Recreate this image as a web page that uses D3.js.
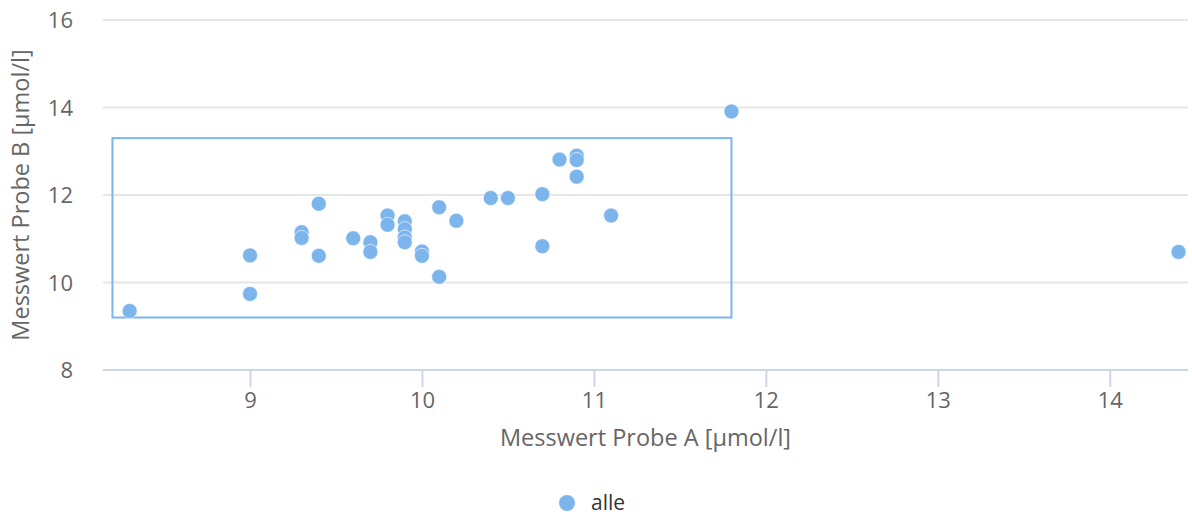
<!DOCTYPE html>
<html>
<head>
<meta charset="utf-8">
<script src="https://cdn.jsdelivr.net/npm/d3@7"></script>
<style>
  html, body { margin: 0; padding: 0; background: #fff; }
  svg { display: block; font-family: "Open Sans", sans-serif; }
</style>
</head>
<body>
<svg id="chart" width="1192" height="515"></svg>
<script>
// ---- data ----
const seriesName = "alle";
const xValues = [8.3, 9.0, 9.0, 9.3, 9.3, 9.4, 9.4, 9.6, 9.7, 9.7, 9.8, 9.8, 9.9, 9.9, 9.9, 9.9,
                 10.0, 10.0, 10.1, 10.1, 10.2, 10.4, 10.5, 10.7, 10.7, 10.8, 10.9, 10.9, 10.9, 11.1, 11.8, 14.4];
const yValues = [9.35, 10.62, 9.74, 11.15, 11.02, 11.8, 10.61, 11.01, 10.92, 10.7, 11.53, 11.32, 11.4, 11.22, 11.03, 10.92,
                 10.71, 10.61, 11.72, 10.13, 11.41, 11.93, 11.93, 12.02, 10.83, 12.81, 12.9, 12.8, 12.42, 11.53, 13.91, 10.7];
const xTicks = [9, 10, 11, 12, 13, 14];
const yTicks = [8, 10, 12, 14, 16];
const xDomain = [8.145, 14.455];
const yDomain = [8, 16];
const boxX = [8.2, 11.8];
const boxY = [9.2, 13.3];
const xTitle = "Messwert Probe A [µmol/l]";
const yTitle = "Messwert Probe B [µmol/l]";

// ---- layout ----
const W = 1192, H = 515;
const m = { left: 103, right: 4, top: 20, bottom: 145 };
const color = "#7cb5ec";

const svg = d3.select("#chart");
const x = d3.scaleLinear().domain(xDomain).range([m.left, W - m.right]);
const y = d3.scaleLinear().domain(yDomain).range([H - m.bottom, m.top]);

// grid
svg.append("g").selectAll("line").data(yTicks.filter(t => t !== yDomain[0])).join("line")
  .attr("x1", m.left).attr("x2", W - m.right)
  .attr("y1", d => y(d)).attr("y2", d => y(d))
  .attr("stroke", "#e6e6e6").attr("stroke-width", 2);

// y axis labels
const yAxis = d3.axisLeft(y).tickValues(yTicks).tickFormat(d3.format("d")).tickSize(0).tickPadding(0);
const gy = svg.append("g").attr("transform", `translate(${m.left - 30},0)`).call(yAxis);
gy.select(".domain").remove();
gy.selectAll("text").attr("fill", "#666").style("font-size", "22px")
  .style("font-family", "'Open Sans', sans-serif").attr("dy", "0.35em");

// x axis
const xAxis = d3.axisBottom(x).tickValues(xTicks).tickFormat(d3.format("d")).tickSize(17).tickPadding(5);
const gx = svg.append("g").attr("transform", `translate(0,${y(yDomain[0])})`).call(xAxis);
gx.select(".domain").attr("d", `M${m.left},0H${W - m.right}`).attr("stroke", "#ccd6eb").attr("stroke-width", 2);
gx.selectAll(".tick line").attr("stroke", "#ccd6eb").attr("stroke-width", 2);
gx.selectAll("text").attr("fill", "#666").style("font-size", "22px")
  .style("font-family", "'Open Sans', sans-serif");

// titles
svg.append("text").attr("x", (m.left + W - m.right) / 2).attr("y", 446)
  .attr("text-anchor", "middle").attr("fill", "#666").style("font-size", "23.5px").text(xTitle);
svg.append("text").attr("transform", `translate(29,${(m.top + H - m.bottom) / 2}) rotate(-90)`)
  .attr("text-anchor", "middle").attr("fill", "#666").style("font-size", "23.5px").text(yTitle);

// box
svg.append("rect")
  .attr("x", x(boxX[0])).attr("y", y(boxY[1]))
  .attr("width", x(boxX[1]) - x(boxX[0])).attr("height", y(boxY[0]) - y(boxY[1]))
  .attr("fill", "none").attr("stroke", color).attr("stroke-width", 2);

// points
const pts = xValues.map((v, i) => ({ x: v, y: yValues[i] }));
svg.append("g").selectAll("circle").data(pts).join("circle")
  .attr("cx", d => x(d.x)).attr("cy", d => y(d.y)).attr("r", 7.5)
  .attr("fill", color).attr("stroke", "#fff").attr("stroke-width", 0.6);

// legend
const lg = svg.append("g").attr("transform", "translate(567,503)");
lg.append("circle").attr("r", 8).attr("fill", color);
lg.append("text").attr("x", 24).attr("y", 0).attr("dy", "0.35em").attr("fill", "#333")
  .style("font-size", "21px").text(seriesName);
</script>
</body>
</html>
